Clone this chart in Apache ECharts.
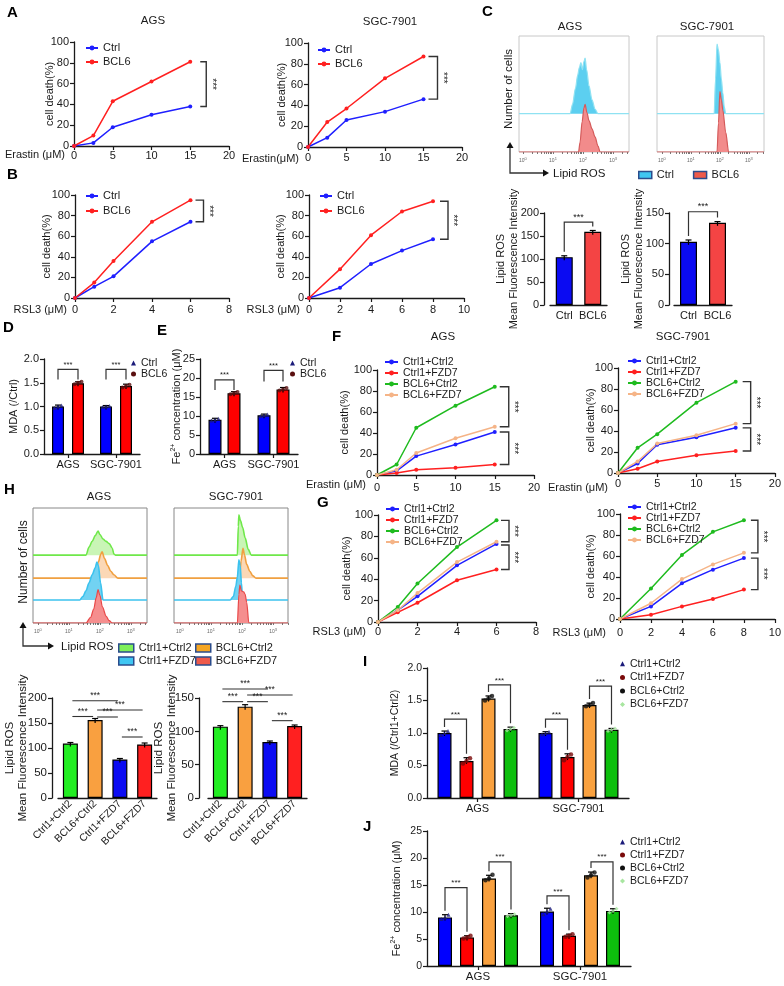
<!DOCTYPE html>
<html><head><meta charset="utf-8"><title>BCL6 ferroptosis figure</title>
<script src="https://cdn.jsdelivr.net/npm/echarts@6.0.0/dist/echarts.min.js"></script>
<style>html,body{margin:0;padding:0;background:#fff;}#chart{width:784px;height:986px;}</style>
</head><body><div id="chart"></div>
<script>
// ---------------- data ----------------
const erastinDose = [0, 2.5, 5, 10, 15];
const rsl3DoseAgs = [0, 1, 2, 4, 6];
const rsl3DoseSgc = [0, 2, 4, 6, 8];
const twoGroups = ['Ctrl', 'BCL6'];
const fourGroups = ['Ctrl1+Ctrl2', 'Ctrl1+FZD7', 'BCL6+Ctrl2', 'BCL6+FZD7'];
const hBarCats = ['Ctrl1+Ctrl2', 'BCL6+Ctrl2', 'Ctrl1+FZD7', 'BCL6+FZD7'];
const cellLines = ['AGS', 'SGC-7901'];

// A: erastin cell death (%)
const aAgsCtrl = [0, 3, 18, 30, 38];
const aAgsBcl6 = [0, 10, 43, 62, 81];
const aSgcCtrl = [0, 9, 26, 34, 46];
const aSgcBcl6 = [0, 24, 37, 66, 87];
// B: RSL3 cell death (%)
const bAgsCtrl = [0, 11, 21, 55, 74];
const bAgsBcl6 = [0, 15, 36, 74, 95];
const bSgcCtrl = [0, 10, 33, 46, 57];
const bSgcBcl6 = [0, 28, 61, 84, 94];

// C: flow histograms [log10 intensity, height % of panel]
const cAgsCtrlHist = [[1.57,0],[1.65,8],[1.75,22],[1.82,33],[1.88,40],[1.93,44],[1.98,38],[2.03,45],[2.07,48],[2.12,38],[2.2,24],[2.3,12],[2.4,4],[2.5,0]];
const cAgsBcl6Hist = [[1.85,0],[1.9,8],[1.97,26],[2.03,38],[2.07,41],[2.13,34],[2.2,27],[2.3,20],[2.4,13],[2.5,5],[2.57,0]];
const cSgcCtrlHist = [[1.8,0],[1.85,30],[1.9,60],[1.95,55],[2.0,44],[2.05,30],[2.1,18],[2.15,6],[2.2,0]];
const cSgcBcl6Hist = [[1.9,0],[1.95,25],[2.0,52],[2.05,45],[2.1,36],[2.2,17],[2.3,0]];
// C: lipid ROS MFI
const cAgsMfi = [104, 159];
const cAgsMfiErr = [3, 3];
const cSgcMfi = [103, 134];
const cSgcMfiErr = [3, 2];

// D: MDA (/Ctrl)
const dCtrl = [1.0, 1.0];
const dBcl6 = [1.49, 1.43];
const dCtrlErr = [0.03, 0.02];
const dBcl6Err = [0.03, 0.04];
const dCtrlReps = [[0.97, 1.0, 1.02], [0.99, 1.0, 1.01]];
const dBcl6Reps = [[1.47, 1.5, 1.52], [1.4, 1.43, 1.46]];
// E: Fe2+ (uM)
const eCtrl = [9.0, 10.2];
const eBcl6 = [16.0, 17.0];
const eCtrlErr = [0.4, 0.3];
const eBcl6Err = [0.4, 0.5];
const eCtrlReps = [[8.8, 9.0, 9.3], [10.0, 10.2, 10.4]];
const eBcl6Reps = [[15.7, 16.0, 16.3], [16.7, 17.0, 17.4]];

// F: erastin, four groups
const fAgsCtrl1Ctrl2 = [0, 4, 18, 29, 41];
const fAgsCtrl1Fzd7 = [0, 2, 5, 7, 10];
const fAgsBcl6Ctrl2 = [0, 10, 45, 66, 84];
const fAgsBcl6Fzd7 = [0, 5, 21, 35, 46];
const fSgcCtrl1Ctrl2 = [0, 9, 27, 34, 43];
const fSgcCtrl1Fzd7 = [0, 4, 11, 17, 21];
const fSgcBcl6Ctrl2 = [0, 24, 37, 67, 87];
const fSgcBcl6Fzd7 = [0, 11, 28, 36, 47];
// G: RSL3, four groups
const gAgsCtrl1Ctrl2 = [0, 11, 24, 53, 73];
const gAgsCtrl1Fzd7 = [0, 9, 18, 39, 49];
const gAgsBcl6Ctrl2 = [0, 14, 36, 70, 95];
const gAgsBcl6Fzd7 = [0, 11, 27, 56, 75];
const gSgcCtrl1Ctrl2 = [0, 12, 34, 47, 58];
const gSgcCtrl1Fzd7 = [0, 4, 12, 19, 28];
const gSgcBcl6Ctrl2 = [0, 29, 61, 83, 94];
const gSgcBcl6Fzd7 = [0, 15, 38, 52, 63];

// H: flow histograms
const hAgsGreenHist = [[1.55,0],[1.65,7],[1.75,12],[1.85,17],[1.94,21],[2.0,18],[2.1,14],[2.2,12],[2.3,10],[2.4,6],[2.45,1],[2.5,0]];
const hAgsOrangeHist = [[1.75,0],[1.85,6],[1.95,14],[2.03,21],[2.07,23],[2.15,17],[2.25,11],[2.35,6],[2.45,3],[2.58,0]];
const hAgsCyanHist = [[1.35,0],[1.45,3],[1.55,8],[1.65,15],[1.75,22],[1.85,28],[1.9,33],[1.95,30],[2.02,15],[2.1,0]];
const hAgsRedHist = [[1.55,0],[1.7,5],[1.8,12],[1.88,22],[1.94,29],[2.0,24],[2.08,14],[2.2,6],[2.3,2],[2.4,0]];
const hSgcGreenHist = [[1.85,0],[1.88,25],[1.9,35],[1.95,30],[2.02,24],[2.1,15],[2.2,5],[2.3,0]];
const hSgcOrangeHist = [[1.92,0],[1.97,15],[2.03,26],[2.08,20],[2.15,12],[2.25,6],[2.35,2],[2.45,0]];
const hSgcCyanHist = [[1.62,0],[1.72,3],[1.8,12],[1.85,20],[1.9,35],[1.94,30],[1.98,15],[2.02,0]];
const hSgcRedHist = [[1.85,0],[1.9,25],[1.93,33],[1.98,28],[2.05,27],[2.1,25],[2.15,18],[2.22,0]];
// H: lipid ROS MFI (order: Ctrl1+Ctrl2, BCL6+Ctrl2, Ctrl1+FZD7, BCL6+FZD7)
const hAgsMfi = [109, 156, 77, 107];
const hAgsMfiErr = [2, 3, 2, 3];
const hSgcMfi = [107, 137, 84, 108];
const hSgcMfiErr = [1.5, 3, 1.5, 1.5];

// I: MDA (/Ctrl1+Ctrl2)
const iCtrl1Ctrl2 = [1.0, 1.0];
const iCtrl1Fzd7 = [0.57, 0.63];
const iBcl6Ctrl2 = [1.53, 1.43];
const iBcl6Fzd7 = [1.06, 1.05];
const iErr = [[0.03, 0.02], [0.05, 0.05], [0.04, 0.03], [0.03, 0.02]];
const iReps = [
  [[0.97, 1.0, 1.03], [0.98, 1.0, 1.02]],
  [[0.53, 0.57, 0.61], [0.58, 0.63, 0.67]],
  [[1.5, 1.53, 1.57], [1.41, 1.43, 1.46]],
  [[1.04, 1.06, 1.08], [1.03, 1.05, 1.07]]
];
// J: Fe2+ (uM)
const jCtrl1Ctrl2 = [9.0, 10.1];
const jCtrl1Fzd7 = [5.3, 5.6];
const jBcl6Ctrl2 = [16.2, 16.8];
const jBcl6Fzd7 = [9.4, 10.2];
const jErr = [[0.5, 0.6], [0.3, 0.3], [0.6, 0.6], [0.3, 0.4]];
const jReps = [
  [[8.7, 9.0, 9.5], [9.6, 10.1, 10.6]],
  [[5.1, 5.3, 5.6], [5.4, 5.6, 5.9]],
  [[15.9, 16.2, 16.9], [16.4, 16.8, 17.3]],
  [[9.2, 9.4, 9.6], [9.9, 10.2, 10.6]]
];

// ---------------- styling helpers ----------------
const FONT = "'Liberation Sans', Arial, sans-serif";
const INK = '#1a1a1a';
const BLUE = '#1f1fff', RED = '#ff2020', GREEN = '#1fbb1f', ORANGE = '#f5b487';
const grid = [], xAxis = [], yAxis = [], series = [], legend = [];

function merge(a, b) {
  const o = Object.assign({}, a);
  for (const k in b) {
    const bv = b[k], av = a[k];
    if (bv && typeof bv === 'object' && !Array.isArray(bv) && av && typeof av === 'object' && !Array.isArray(av)) o[k] = merge(av, bv);
    else o[k] = bv;
  }
  return o;
}
function G(left, top, width, height, extra) {
  grid.push(Object.assign({left, top, width, height}, extra || {}));
  return grid.length - 1;
}
function axisBase(gi, extra) {
  return merge({
    gridIndex: gi, nameMoveOverlap: false,
    axisLine: {show: true, onZero: false, lineStyle: {color: INK, width: 1.3}},
    axisTick: {show: true, length: 4, lineStyle: {color: INK, width: 1.2}},
    axisLabel: {color: INK, fontSize: 11, fontFamily: FONT, margin: 5},
    splitLine: {show: false},
    nameTextStyle: {color: INK, fontSize: 11, fontFamily: FONT}
  }, extra || {});
}
function addLegend(left, top, data, o) {
  legend.push({
    left, top, orient: o.orient || 'vertical', padding: 0, itemGap: o.gap || 0,
    itemWidth: o.iw, itemHeight: o.ih, selectedMode: false,
    data, formatter: n => n.split(':')[1],
    textStyle: {fontSize: o.fs, fontFamily: FONT, color: INK, lineHeight: o.lh}
  });
}

function linePanel(p) {
  const gi = G(p.l, p.t, p.w, p.h);
  xAxis.push(axisBase(gi, {type: 'value', min: 0, max: p.xmax, interval: p.xint,
    name: p.xName, nameLocation: 'start', nameGap: p.xGap,
    nameTextStyle: {align: 'right', verticalAlign: 'top', lineHeight: p.xLH},
    axisLabel: {margin: p.lm}}));
  yAxis.push(axisBase(gi, {type: 'value', min: 0, max: 100, interval: 20,
    name: 'cell death(%)', nameLocation: 'middle', nameGap: p.yGap}));
  p.sets.forEach(s => series.push({
    type: 'line', name: s.name, xAxisIndex: gi, yAxisIndex: gi,
    data: p.doses.map((d, i) => [d, s.vals[i]]),
    symbol: 'circle', symbolSize: 4, lineStyle: {color: s.color, width: 1.5},
    itemStyle: {color: s.color}, z: 3
  }));
  addLegend(p.lg[0], p.lg[1], p.sets.map(s => s.name), {iw: p.lg[2], ih: 6, fs: p.lg[3], lh: p.lg[4]});
  return gi;
}

function histPanel(left, top, width, height, xmin, xmax, lanes, border) {
  const gi = G(left, top, width, height, {show: true, borderColor: border, borderWidth: 1, backgroundColor: 'rgba(0,0,0,0)'});
  const ticks = [];
  for (let d = 0; d <= 3; d++) for (let k = 1; k <= 9; k++) {
    const t = d + Math.log10(k);
    if (t >= xmin && t <= xmax) ticks.push(t);
  }
  xAxis.push({type: 'value', gridIndex: gi, min: xmin, max: xmax, axisLine: {show: false}, splitLine: {show: false},
    axisTick: {show: true, length: 2, customValues: ticks, lineStyle: {color: '#555', width: 0.8}},
    axisLabel: {show: true, customValues: [0, 1, 2, 3], margin: 5,
      formatter: v => '{b|10}{s|' + Math.round(v) + '}',
      rich: {b: {fontSize: 5, color: '#666', fontFamily: FONT}, s: {fontSize: 4, color: '#666', fontFamily: FONT, padding: [0, 0, 4, 0]}}}});
  yAxis.push({type: 'value', gridIndex: gi, min: 0, max: 100, show: false});
  lanes.forEach((l, k) => {
    const pts = [[xmin, 0]].concat(l.hist, [[xmax, 0]]).map(p => [p[0], l.base + p[1]]);
    series.push({type: 'line', name: l.name, xAxisIndex: gi, yAxisIndex: gi, data: pts,
      symbol: 'none', smooth: 0.3, smoothMonotone: 'x', silent: true,
      lineStyle: {color: l.line, width: l.lw || 1.2},
      areaStyle: {color: l.fill, opacity: 1, origin: l.base}, z: 2 + k});
  });
  return gi;
}

// bars: groups = [{name, vals, errs, colors|color, reps, dot}]
function barPanel(o) {
  const gi = G(o.l, o.t, o.w, o.h);
  xAxis.push(axisBase(gi, {type: 'category', data: o.cats,
    axisTick: {show: o.tick !== false, alignWithLabel: true, length: 4},
    axisLabel: {fontSize: o.xfs || 11, rotate: o.rot || 0, margin: o.xm || 5, interval: 0}}));
  yAxis.push(axisBase(gi, {type: 'value', min: o.ymin, max: o.ymax, interval: o.yint, offset: o.yoff || 0,
    name: o.yName, nameLocation: 'middle', nameGap: o.yGap,
    nameTextStyle: o.yNameStyle || {},
    axisLabel: {fontSize: o.yfs || 11, formatter: o.yfmt || (v => v)}}));
  const n = o.groups.length, pitch = o.bw + (o.gap || 0);
  const offs = o.groups.map((g, k) => (k - (n - 1) / 2) * pitch);
  o.groups.forEach((g, k) => {
    series.push({type: 'bar', name: g.name, xAxisIndex: gi, yAxisIndex: gi, barWidth: o.bw,
      barGap: ((o.gap || 0) / o.bw * 100) + '%',
      data: g.vals.map((v, i) => ({value: v, itemStyle: {color: g.colors ? g.colors[i] : g.color}})),
      itemStyle: {borderColor: '#000', borderWidth: 1.2}, z: 2});
    const off = offs[k];
    series.push({type: 'custom', xAxisIndex: gi, yAxisIndex: gi, silent: true, z: 4, clip: false,
      data: g.vals.map((v, i) => [i, v, g.errs[i]]),
      renderItem: (params, api) => {
        const c = api.value(0), m = api.value(1), e = api.value(2);
        const top = api.coord([c, m + e]), mid = api.coord([c, m]);
        const x = top[0] + off;
        const st = {stroke: '#000', lineWidth: 1.2};
        return {type: 'group', children: [
          {type: 'line', shape: {x1: x, y1: top[1], x2: x, y2: mid[1] + 3}, style: st},
          {type: 'line', shape: {x1: x - 3, y1: top[1], x2: x + 3, y2: top[1]}, style: st}
        ]};
      }});
    if (g.reps) {
      const jit = [-3.5, 0, 3.5];
      const pts = [];
      g.reps.forEach((r, i) => r.forEach((v, j) => pts.push({value: [i, v], symbolOffset: [off + jit[j], 0]})));
      series.push({type: 'scatter', xAxisIndex: gi, yAxisIndex: gi, silent: true, z: 5,
        symbol: g.dot.symbol, symbolSize: g.dot.size || 4, itemStyle: {color: g.dot.color}, data: pts});
    }
  });
  return {gi, offs};
}

// ---------------- panels ----------------
const gA1 = linePanel({l: 74, t: 42, w: 155, h: 104, xmax: 20, xint: 5, doses: erastinDose,
  xName: 'Erastin (μM)', xGap: 9, xLH: 18, lm: 4, yGap: 19, lg: [85, 41, 12, 11, 14],
  sets: [{name: 'A1:Ctrl', vals: aAgsCtrl, color: BLUE}, {name: 'A1:BCL6', vals: aAgsBcl6, color: RED}]});
const gA2 = linePanel({l: 308, t: 43, w: 154, h: 104, xmax: 20, xint: 5, doses: erastinDose,
  xName: 'Erastin(μM)', xGap: 9, xLH: 24, lm: 5.5, yGap: 21, lg: [317, 43, 12, 11, 14],
  sets: [{name: 'A2:Ctrl', vals: aSgcCtrl, color: BLUE}, {name: 'A2:BCL6', vals: aSgcBcl6, color: RED}]});
const gB1 = linePanel({l: 75, t: 195, w: 154, h: 103, xmax: 8, xint: 2, doses: rsl3DoseAgs,
  xName: 'RSL3 (μM)', xGap: 8, xLH: 24, lm: 6.5, yGap: 23, lg: [85, 188.5, 12, 11, 15],
  sets: [{name: 'B1:Ctrl', vals: bAgsCtrl, color: BLUE}, {name: 'B1:BCL6', vals: bAgsBcl6, color: RED}]});
const gB2 = linePanel({l: 309, t: 195, w: 155, h: 103, xmax: 10, xint: 2, doses: rsl3DoseSgc,
  xName: 'RSL3 (μM)', xGap: 9, xLH: 24, lm: 6.5, yGap: 23, lg: [319, 188.5, 12, 11, 15],
  sets: [{name: 'B2:Ctrl', vals: bSgcCtrl, color: BLUE}, {name: 'B2:BCL6', vals: bSgcBcl6, color: RED}]});

// C histograms
const CY_LINE = '#8fe2f2', CY_FILL = '#5ccff0', RD_LINE = '#d45a5a', RD_FILL = '#f28b8b';
histPanel(519, 36, 110, 116, -0.13, 3.53, [
  {name: 'C:Ctrl', hist: cAgsCtrlHist, base: 33, line: CY_LINE, fill: CY_FILL},
  {name: 'C:BCL6', hist: cAgsBcl6Hist, base: 0, line: RD_LINE, fill: RD_FILL}
], '#c8c8c8');
histPanel(657, 36, 107, 116, -0.17, 3.52, [
  {name: 'C:Ctrl', hist: cSgcCtrlHist, base: 33, line: CY_LINE, fill: CY_FILL},
  {name: 'C:BCL6', hist: cSgcBcl6Hist, base: 0, line: RD_LINE, fill: RD_FILL}
], '#c8c8c8');
addLegend(638, 169, [
  {name: 'C:Ctrl', icon: 'rect', itemStyle: {color: '#3fc6f2', borderColor: '#2b4c8c', borderWidth: 1.5}},
  {name: 'C:BCL6', icon: 'rect', itemStyle: {color: '#ef5a4a', borderColor: '#2b4c8c', borderWidth: 1.5}}
], {orient: 'horizontal', gap: 19, iw: 13, ih: 7, fs: 11, lh: 12});

// C bars
const mfiName = 'Lipid ROS\nMean Fluorescence Intensity';
const cColors = ['#0b0bf2', '#f44444'];
const cB1 = barPanel({l: 550, t: 213, w: 57, h: 92, cats: twoGroups, ymin: 0, ymax: 200, yint: 50, yoff: 6,
  yName: mfiName, yGap: 24, yNameStyle: {lineHeight: 13}, bw: 17, tick: false,
  groups: [{name: 'Cb1', vals: cAgsMfi, errs: cAgsMfiErr, colors: cColors}]});
const cB2 = barPanel({l: 674, t: 213, w: 58, h: 92, cats: twoGroups, ymin: 0, ymax: 150, yint: 50, yoff: 5,
  yName: mfiName, yGap: 24, yNameStyle: {lineHeight: 13}, bw: 17, tick: false,
  groups: [{name: 'Cb2', vals: cSgcMfi, errs: cSgcMfiErr, colors: cColors}]});

// D, E
const DOT_CTRL = {symbol: 'triangle', color: '#1b1b7a', size: 4};
const DOT_BCL6 = {symbol: 'circle', color: '#5a0f0f', size: 4};
const pD = barPanel({l: 44, t: 359, w: 96, h: 95, cats: cellLines, ymin: 0, ymax: 2, yint: 0.5,
  yfmt: v => v.toFixed(1), yName: 'MDA (/Ctrl)', yGap: 25, bw: 12, gap: 8,
  groups: [
    {name: 'D:Ctrl', vals: dCtrl, errs: dCtrlErr, color: '#0000ff', reps: dCtrlReps, dot: DOT_CTRL},
    {name: 'D:BCL6', vals: dBcl6, errs: dBcl6Err, color: '#ff0000', reps: dBcl6Reps, dot: DOT_BCL6}]});
addLegend(131, 357.5, [
  {name: 'D:Ctrl', icon: 'triangle', itemStyle: {color: '#1b1b7a', borderWidth: 0}},
  {name: 'D:BCL6', icon: 'circle', itemStyle: {color: '#5a0f0f', borderWidth: 0}}
], {iw: 5, ih: 5, fs: 10.5, lh: 9});
const feName = '{t|Fe}{s|2+}{t| concentration (μM)}';
const feRich = {t: {fontSize: 11, fontFamily: FONT, color: INK}, s: {fontSize: 7, fontFamily: FONT, color: INK, padding: [0, 0, 6, 0]}};
const pE = barPanel({l: 200, t: 359, w: 98, h: 95, cats: cellLines, ymin: 0, ymax: 25, yint: 5,
  yName: feName, yGap: 17, yNameStyle: {rich: feRich}, bw: 13, gap: 6,
  groups: [
    {name: 'E:Ctrl', vals: eCtrl, errs: eCtrlErr, color: '#0000ff', reps: eCtrlReps, dot: DOT_CTRL},
    {name: 'E:BCL6', vals: eBcl6, errs: eBcl6Err, color: '#ff0000', reps: eBcl6Reps, dot: DOT_BCL6}]});
addLegend(290, 357.5, [
  {name: 'E:Ctrl', icon: 'triangle', itemStyle: {color: '#1b1b7a', borderWidth: 0}},
  {name: 'E:BCL6', icon: 'circle', itemStyle: {color: '#5a0f0f', borderWidth: 0}}
], {iw: 5, ih: 5, fs: 10.5, lh: 9});

// F, G
function fourSets(prefix, a, b, c, d) {
  return [{name: prefix + ':Ctrl1+Ctrl2', vals: a, color: BLUE}, {name: prefix + ':Ctrl1+FZD7', vals: b, color: RED},
          {name: prefix + ':BCL6+Ctrl2', vals: c, color: GREEN}, {name: prefix + ':BCL6+FZD7', vals: d, color: ORANGE}];
}
const gF1 = linePanel({l: 377, t: 370, w: 157, h: 105, xmax: 20, xint: 5, doses: erastinDose,
  xName: 'Erastin (μM)', xGap: 11, xLH: 20, lm: 7, yGap: 27, lg: [384, 356.5, 13, 10.5, 9],
  sets: fourSets('F1', fAgsCtrl1Ctrl2, fAgsCtrl1Fzd7, fAgsBcl6Ctrl2, fAgsBcl6Fzd7)});
const gF2 = linePanel({l: 618, t: 368, w: 160, h: 105, xmax: 20, xint: 5, doses: erastinDose,
  xName: 'Erastin (μM)', xGap: 10, xLH: 30, lm: 5.5, yGap: 22, lg: [627, 355.5, 13, 10.5, 9],
  sets: fourSets('F2', fSgcCtrl1Ctrl2, fSgcCtrl1Fzd7, fSgcBcl6Ctrl2, fSgcBcl6Fzd7)});
const gG1 = linePanel({l: 378, t: 515, w: 158, h: 107, xmax: 8, xint: 2, doses: rsl3DoseAgs,
  xName: 'RSL3 (μM)', xGap: 12, xLH: 20, lm: 4.5, yGap: 26, lg: [385, 503.5, 13, 10.5, 9],
  sets: fourSets('G1', gAgsCtrl1Ctrl2, gAgsCtrl1Fzd7, gAgsBcl6Ctrl2, gAgsBcl6Fzd7)});
const gG2 = linePanel({l: 620, t: 514, w: 157, h: 105, xmax: 10, xint: 2, doses: rsl3DoseSgc,
  xName: 'RSL3 (μM)', xGap: 14, xLH: 28, lm: 8, yGap: 24, lg: [627, 501.5, 13, 10.5, 9.3],
  sets: fourSets('G2', gSgcCtrl1Ctrl2, gSgcCtrl1Fzd7, gSgcBcl6Ctrl2, gSgcBcl6Fzd7)});

// H histograms
const H_G = ['#6fe84a', '#c9f5b6'], H_O = ['#f0a040', '#fbd8b6'], H_C = ['#3cc2ee', '#72d2f2'], H_R = ['#e84848', '#f58e8e'];
histPanel(33, 508, 114, 115, -0.16, 3.52, [
  {name: 'H:Ctrl1+Ctrl2', hist: hAgsGreenHist, base: 59, line: H_G[0], fill: H_G[1], lw: 1.6},
  {name: 'H:BCL6+Ctrl2', hist: hAgsOrangeHist, base: 39, line: H_O[0], fill: H_O[1], lw: 1.6},
  {name: 'H:Ctrl1+FZD7', hist: hAgsCyanHist, base: 20, line: H_C[0], fill: H_C[1], lw: 1.6},
  {name: 'H:BCL6+FZD7', hist: hAgsRedHist, base: 0, line: H_R[0], fill: H_R[1], lw: 1.2}
], '#888');
histPanel(174, 508, 114, 115, -0.19, 3.48, [
  {name: 'H:Ctrl1+Ctrl2', hist: hSgcGreenHist, base: 59, line: H_G[0], fill: H_G[1], lw: 1.6},
  {name: 'H:BCL6+Ctrl2', hist: hSgcOrangeHist, base: 39, line: H_O[0], fill: H_O[1], lw: 1.6},
  {name: 'H:Ctrl1+FZD7', hist: hSgcCyanHist, base: 20, line: H_C[0], fill: H_C[1], lw: 1.6},
  {name: 'H:BCL6+FZD7', hist: hSgcRedHist, base: 0, line: H_R[0], fill: H_R[1], lw: 1.2}
], '#888');
const hLegBorder = {borderColor: '#2b4c8c', borderWidth: 1.5};
addLegend(118, 641.5, [
  {name: 'H:Ctrl1+Ctrl2', icon: 'rect', itemStyle: Object.assign({color: '#7ef05a'}, hLegBorder)},
  {name: 'H:Ctrl1+FZD7', icon: 'rect', itemStyle: Object.assign({color: '#3fc6f2'}, hLegBorder)}
], {iw: 15, ih: 8, fs: 11, lh: 13});
addLegend(195, 641.5, [
  {name: 'H:BCL6+Ctrl2', icon: 'rect', itemStyle: Object.assign({color: '#f5a623'}, hLegBorder)},
  {name: 'H:BCL6+FZD7', icon: 'rect', itemStyle: Object.assign({color: '#ef5a4a'}, hLegBorder)}
], {iw: 15, ih: 8, fs: 11, lh: 13});

// H bars
const hColors = ['#22ee22', '#f9a040', '#0b0bf2', '#ff2020'];
const hB1 = barPanel({l: 58, t: 698, w: 99, h: 100, cats: hBarCats, ymin: 0, ymax: 200, yint: 50, yoff: 6,
  yName: mfiName, yGap: 23, yNameStyle: {lineHeight: 13, fontSize: 11.5}, yfs: 11.5, bw: 15, tick: false, rot: 45, xfs: 10.5, xm: 4,
  groups: [{name: 'Hb1', vals: hAgsMfi, errs: hAgsMfiErr, colors: hColors}]});
const hB2 = barPanel({l: 208, t: 698, w: 99, h: 100, cats: hBarCats, ymin: 0, ymax: 150, yint: 50, yoff: 9,
  yName: mfiName, yGap: 21, yNameStyle: {lineHeight: 13, fontSize: 11.5}, yfs: 11.5, bw: 15, tick: false, rot: 45, xfs: 10.5, xm: 4,
  groups: [{name: 'Hb2', vals: hSgcMfi, errs: hSgcMfiErr, colors: hColors}]});

// I, J
const IJ_COLORS = ['#0000ff', '#ff0000', '#f9a13f', '#0dbf0d'];
const IJ_DOTS = [
  {symbol: 'triangle', color: '#1b1b7a', size: 4},
  {symbol: 'circle', color: '#7a0a0a', size: 4.5},
  {symbol: 'circle', color: '#111111', size: 4.5},
  {symbol: 'diamond', color: '#a8e6a0', size: 4}
];
function fourBarGroups(prefix, series4, errs, reps) {
  return series4.map((vals, k) => ({name: prefix + ':' + fourGroups[k], vals, errs: errs[k], color: IJ_COLORS[k], reps: reps[k], dot: IJ_DOTS[k]}));
}
const pI = barPanel({l: 427, t: 668, w: 202, h: 130, cats: cellLines, ymin: 0, ymax: 2, yint: 0.5,
  yfmt: v => v.toFixed(1), yfs: 10.5, xfs: 11, yName: 'MDA (/Ctrl1+Ctrl2)', yGap: 26, yNameStyle: {fontSize: 10.5},
  bw: 14, gap: 8, groups: fourBarGroups('I', [iCtrl1Ctrl2, iCtrl1Fzd7, iBcl6Ctrl2, iBcl6Fzd7], iErr, iReps)});
const pJ = barPanel({l: 427, t: 831, w: 204, h: 135, cats: cellLines, ymin: 0, ymax: 25, yint: 5,
  yfs: 10.5, xfs: 11.5, yName: feName, yGap: 24, yNameStyle: {rich: feRich},
  bw: 14, gap: 8, groups: fourBarGroups('J', [jCtrl1Ctrl2, jCtrl1Fzd7, jBcl6Ctrl2, jBcl6Fzd7], jErr, jReps)});
function ijLegend(prefix, left, top, lh) {
  addLegend(left, top, fourGroups.map((g, k) => ({name: prefix + ':' + g, icon: IJ_DOTS[k].symbol,
    itemStyle: {color: IJ_DOTS[k].color, borderWidth: 0}})), {iw: 5, ih: 5, fs: 10.5, lh});
}
ijLegend('I', 620, 657, 13.6);
ijLegend('J', 620, 835.5, 13);

// ---------------- render ----------------
const chart = echarts.init(document.getElementById('chart'), null, {width: 784, height: 986});
chart.setOption({animation: false, backgroundColor: '#ffffff', textStyle: {fontFamily: FONT},
  grid, xAxis, yAxis, series, legend});

// ---------------- annotations ----------------
const gfx = [];
const px = (gi, v) => chart.convertToPixel({gridIndex: gi}, v);
function text(x, y, s, o) {
  o = o || {};
  gfx.push({type: 'text', x, y, rotation: o.rot || 0, silent: true, z: 20,
    style: {text: s, x: 0, y: 0, fill: o.color || INK,
      font: (o.bold ? 'bold ' : '') + (o.size || 11) + 'px ' + FONT,
      align: o.align || 'left', textAlign: o.align || 'left',
      verticalAlign: o.va || 'top', textVerticalAlign: o.va || 'top'}});
}
function seg(points, w) {
  gfx.push({type: 'polyline', silent: true, z: 20, shape: {points}, style: {stroke: '#333', fill: null, lineWidth: w || 1.2}});
}
function arrowHead(tip, dir) {
  const s = 3.5, l = 6;
  const pts = dir === 'up' ? [[tip[0], tip[1]], [tip[0] - s, tip[1] + l], [tip[0] + s, tip[1] + l]]
                           : [[tip[0], tip[1]], [tip[0] - l, tip[1] - s], [tip[0] - l, tip[1] + s]];
  gfx.push({type: 'polygon', silent: true, z: 20, shape: {points: pts}, style: {fill: '#111'}});
}
function lineBracket(gi, xv, y1, y2, dx, w) {
  const p1 = px(gi, [xv, y1]), p2 = px(gi, [xv, y2]);
  const x0 = p1[0] + dx, x1 = x0 + w;
  seg([[x0, p1[1]], [x1, p1[1]], [x1, p2[1]], [x0, p2[1]]], 1.4);
  text(x1 + 5, (p1[1] + p2[1]) / 2, '***', {align: 'center', va: 'middle', size: 10, rot: -Math.PI / 2});
}
function barBracket(gi, a, b, lineV, legA, legB, starSize) {
  const xa = px(gi, [a[0], 0])[0] + a[1], xb = px(gi, [b[0], 0])[0] + b[1];
  const yl = px(gi, [a[0], lineV])[1];
  const ya = typeof legA === 'number' ? yl + legA : px(gi, [a[0], legA.v])[1] - 4;
  const yb = typeof legB === 'number' ? yl + legB : px(gi, [b[0], legB.v])[1] - 4;
  seg([[xa, ya], [xa, yl], [xb, yl], [xb, yb]], 1.2);
  text((xa + xb) / 2, yl - 0.5, '***', {align: 'center', va: 'bottom', size: starSize || 9});
}
function hLine(gi, ca, cb, v) {
  const xa = px(gi, [ca, 0])[0] + 2, xb = px(gi, [cb, 0])[0] - 2;
  const y = px(gi, [ca, v])[1];
  seg([[xa, y], [xb, y]], 1.1);
  text((xa + xb) / 2, y - 0.5, '***', {align: 'center', va: 'bottom', size: 8.5});
}

lineBracket(gA1, 15, aAgsBcl6[4], aAgsCtrl[4], 10, 6);
lineBracket(gA2, 15, aSgcBcl6[4], aSgcCtrl[4], 5, 9);
lineBracket(gB1, 6, bAgsBcl6[4], bAgsCtrl[4], 5, 8);
lineBracket(gB2, 8, bSgcBcl6[4], bSgcCtrl[4], 7, 8);
lineBracket(gF1, 15, fAgsBcl6Ctrl2[4], fAgsBcl6Fzd7[4], 5, 9);
lineBracket(gF1, 15, fAgsCtrl1Ctrl2[4], fAgsCtrl1Fzd7[4], 5, 9);
lineBracket(gF2, 15, fSgcBcl6Ctrl2[4], fSgcBcl6Fzd7[4], 7, 8);
lineBracket(gF2, 15, fSgcCtrl1Ctrl2[4], fSgcCtrl1Fzd7[4], 7, 8);
lineBracket(gG1, 6, gAgsBcl6Ctrl2[4], gAgsBcl6Fzd7[4], 4.5, 8);
lineBracket(gG1, 6, gAgsCtrl1Ctrl2[4] - 1, gAgsCtrl1Fzd7[4], 4.5, 8);
lineBracket(gG2, 8, gSgcBcl6Ctrl2[4], gSgcBcl6Fzd7[4], 7, 7);
lineBracket(gG2, 8, gSgcCtrl1Ctrl2[4], gSgcCtrl1Fzd7[4], 7, 7);

barBracket(cB1.gi, [0, 0], [1, 0], 180, {v: cAgsMfi[0] + cAgsMfiErr[0]}, {v: cAgsMfi[1] + cAgsMfiErr[1]}, 9);
barBracket(cB2.gi, [0, 0], [1, 0], 152, {v: cSgcMfi[0] + cSgcMfiErr[0]}, {v: cSgcMfi[1] + cSgcMfiErr[1]}, 9);
barBracket(pD.gi, [0, pD.offs[0]], [0, pD.offs[1]], 1.78, 10, 10, 7.5);
barBracket(pD.gi, [1, pD.offs[0]], [1, pD.offs[1]], 1.78, 10, 10, 7.5);
barBracket(pE.gi, [0, pE.offs[0]], [0, pE.offs[1]], 19.5, 10, 10, 7.5);
barBracket(pE.gi, [1, pE.offs[0]], [1, pE.offs[1]], 22, 11, 11, 7.5);
const iVals = [iCtrl1Ctrl2, iCtrl1Fzd7, iBcl6Ctrl2, iBcl6Fzd7];
const jVals = [jCtrl1Ctrl2, jCtrl1Fzd7, jBcl6Ctrl2, jBcl6Fzd7];
[[0, 1.215, 1.74], [1, 1.215, 1.72]].forEach(([c, l1, l2]) => {
  barBracket(pI.gi, [c, pI.offs[0]], [c, pI.offs[1]], l1, {v: iVals[0][c] + iErr[0][c]}, {v: iVals[1][c] + iErr[1][c]}, 8);
  barBracket(pI.gi, [c, pI.offs[2]], [c, pI.offs[3]], l2, {v: iVals[2][c] + iErr[2][c]}, {v: iVals[3][c] + iErr[3][c]}, 8);
});
[[0, 14.5, 19.3], [1, 13.0, 19.3]].forEach(([c, l1, l2]) => {
  barBracket(pJ.gi, [c, pJ.offs[0]], [c, pJ.offs[1]], l1, {v: jVals[0][c] + jErr[0][c]}, {v: jVals[1][c] + jErr[1][c]}, 8);
  barBracket(pJ.gi, [c, pJ.offs[2]], [c, pJ.offs[3]], l2, {v: jVals[2][c] + jErr[2][c]}, {v: jVals[3][c] + jErr[3][c]}, 8);
});
[[0, 1, 163], [0, 2, 194.6], [1, 3, 176], [1, 2, 162], [2, 3, 122]].forEach(s => hLine(hB1.gi, s[0], s[1], s[2]));
[[0, 1, 144.5], [0, 2, 163.5], [1, 3, 154.5], [1, 2, 144.5], [2, 3, 116]].forEach(s => hLine(hB2.gi, s[0], s[1], s[2]));

[['A', 7, 5], ['B', 7, 167], ['C', 482, 4], ['D', 3, 320], ['E', 157, 323], ['F', 332, 329],
 ['G', 317, 495], ['H', 4, 482], ['I', 363, 654], ['J', 363, 819]].forEach(([s, x, y]) => text(x, y, s, {bold: true, size: 15, color: '#000'}));
[['AGS', 153, 21], ['SGC-7901', 390, 22], ['AGS', 570, 27], ['SGC-7901', 707, 27],
 ['AGS', 443, 337], ['SGC-7901', 683, 337], ['AGS', 99, 497], ['SGC-7901', 236, 497]].forEach(([s, x, y]) =>
  text(x, y, s, {align: 'center', va: 'middle', size: 11.5}));
text(509, 89, 'Number of cells', {align: 'center', va: 'middle', size: 11.5, rot: Math.PI / 2});
seg([[510, 147], [510, 173], [543, 173]], 1.3); arrowHead([510, 142], 'up'); arrowHead([549, 173], 'right');
text(553, 174, 'Lipid ROS', {va: 'middle', size: 11.5});
text(24, 562, 'Number of cells', {align: 'center', va: 'middle', size: 12, rot: Math.PI / 2});
seg([[23, 628], [23, 646], [48, 646]], 1.3); arrowHead([23, 622], 'up'); arrowHead([54, 646], 'right');
text(61, 647, 'Lipid ROS', {va: 'middle', size: 11.5});

chart.setOption({graphic: {elements: gfx}});
</script></body></html>
